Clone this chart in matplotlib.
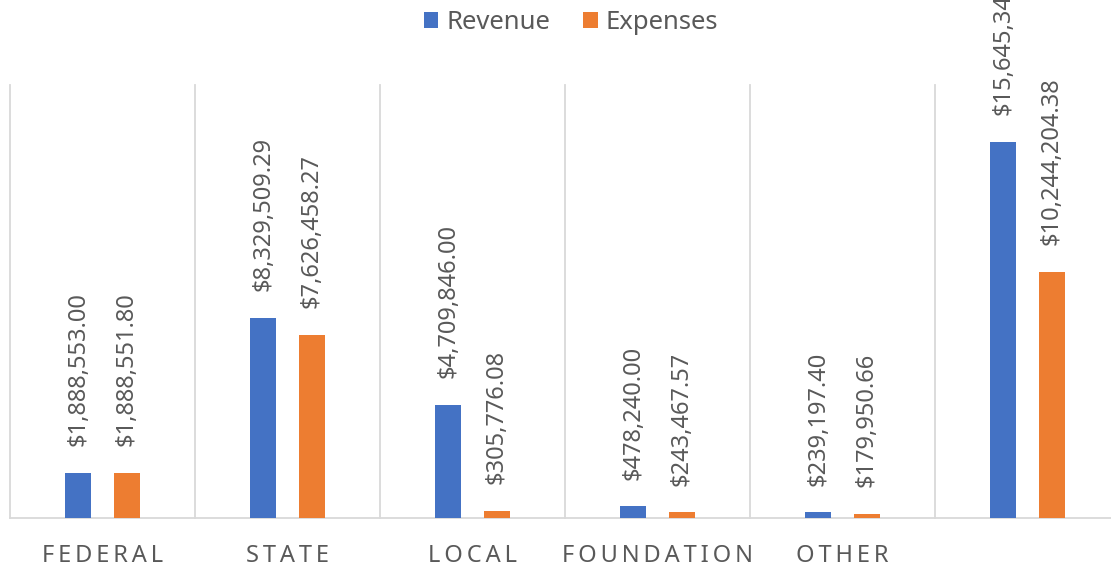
import numpy as np
import matplotlib
matplotlib.use("Agg")
import matplotlib.pyplot as plt

# ─── Data ─────────────────────────────────────────────────────────────────────
CATEGORIES = ["FEDERAL", "STATE", "LOCAL", "FOUNDATION", "OTHER", ""]
REVENUE    = [1888553.00, 8329509.29, 4709846.00, 478240.00, 239197.40, 15645345.69]
EXPENSES   = [1888551.80, 7626458.27, 305776.08, 243467.57, 179950.66, 10244204.38]

# ─── Style ────────────────────────────────────────────────────────────────────
BLUE   = "#4472C4"
ORANGE = "#ED7D31"
GREY_T = "#595959"
GRID   = "#d9d9d9"
plt.rcParams["font.family"] = ["Noto Sans", "DejaVu Sans"]

fig = plt.figure(figsize=(11.11, 5.68), dpi=100)
ax = fig.add_axes([10 / 1111, 50 / 568, 1110 / 1111, 433 / 568])

x = np.arange(len(CATEGORIES))
off, width = 0.132, 0.14
b1 = ax.bar(x - off, REVENUE, width, color=BLUE, label="Revenue", zorder=3)
b2 = ax.bar(x + off, EXPENSES, width, color=ORANGE, label="Expenses", zorder=3)

for bars, vals in ((b1, REVENUE), (b2, EXPENSES)):
    for rect, v in zip(bars, vals):
        ax.annotate(f"${v:,.2f}",
                    (rect.get_x() + rect.get_width() / 2, rect.get_height()),
                    xytext=(0, 19), textcoords="offset points",
                    rotation=90, ha="center", va="bottom",
                    fontsize=17, color=GREY_T, annotation_clip=False)

ax.set_xlim(-0.5, len(CATEGORIES) - 0.5)
ax.set_ylim(0, 18e6)
for b in np.arange(-0.5, len(CATEGORIES), 1.0):
    ax.axvline(b, color=GRID, lw=1.3, zorder=1, clip_on=False)
ax.axhline(0, color=GRID, lw=1.3, zorder=2, clip_on=False)

# letter-spaced category labels (thin spaces between letters)
ax.set_xticks(x)
ax.set_xticklabels(["\u2009".join(c) for c in CATEGORIES], fontsize=17, color=GREY_T)
ax.tick_params(axis="x", length=0, pad=19)
ax.set_yticks([])
for s in ax.spines.values():
    s.set_visible(False)

fig.legend(loc="upper center", bbox_to_anchor=(571 / 1111, 1.023), ncol=2,
           frameon=False, fontsize=18.5, labelcolor=GREY_T,
           handlelength=0.55, handleheight=0.55, handletextpad=0.3,
           columnspacing=1.3)

fig.savefig("out.png", dpi=100)
